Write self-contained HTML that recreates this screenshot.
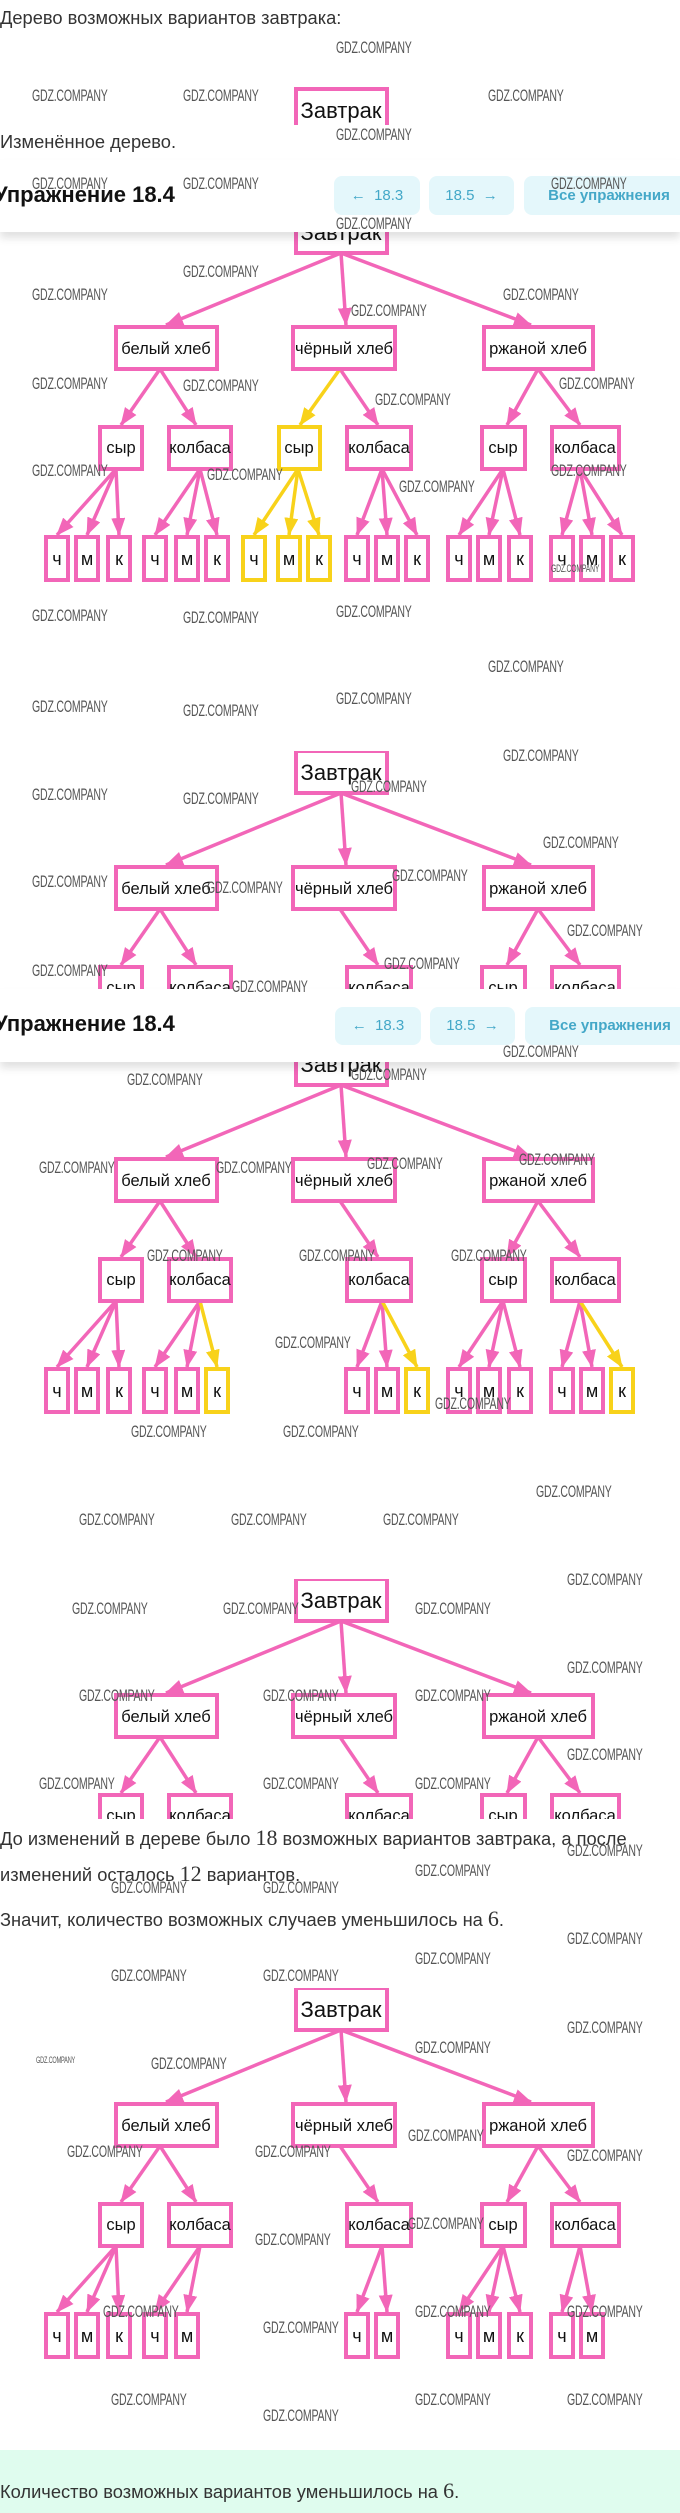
<!DOCTYPE html>
<html><head><meta charset="utf-8">
<style>
*{margin:0;padding:0;box-sizing:border-box}
html,body{width:680px;height:2513px;background:#fff;overflow:hidden;position:relative;font-family:"Liberation Sans","DejaVu Sans",sans-serif;color:#333}
.txt{position:absolute;left:0;font-size:18.3px;color:#333;white-space:nowrap}
.m{font-family:"Liberation Serif",serif;font-size:22px}
.clip{position:absolute;left:0;width:680px;overflow:hidden}
svg .b{fill:#fff;stroke:#f266b8;stroke-width:4}
svg .by{fill:#fff;stroke:#f8d21a;stroke-width:4}
svg .l line{stroke:#f266b8;stroke-width:3.5}
svg .ly line{stroke:#f8d21a;stroke-width:3.5}
svg text{font-family:"Liberation Sans",sans-serif;fill:#111;text-anchor:middle}
svg .t1{font-size:16.5px}
svg .t0{font-size:22px}
svg .lf text{font-size:18px}
.hdr{position:absolute;left:0;width:680px;background:#fff;box-shadow:0 6px 8px rgba(0,0,0,0.12);z-index:5}
.hdr h2{position:absolute;left:-6px;font-size:22px;font-weight:bold;color:#111}
.btn{position:absolute;background:#e4f7fb;border-radius:8px;color:#44a8c8;font-size:15px;text-align:center}
.wm{position:absolute;font-family:"Liberation Sans",sans-serif;font-size:17px;color:#555;transform:scaleX(0.62);transform-origin:0 0;white-space:nowrap;z-index:10;letter-spacing:-0.3px}
.green{position:absolute;left:0;top:2450px;width:680px;height:63px;background:#dffcee}
</style></head><body>

<div class="txt" style="top:7px">Дерево возможных вариантов завтрака:</div>

<div class="clip" style="top:87px;height:38px">
<svg width="680" height="60"><rect class="b" x="296" y="2" width="91" height="42"/><text class="t0" x="341" y="31">Завтрак</text></svg>
</div>

<div class="txt" style="top:131px">Изменённое дерево.</div>

<div class="hdr" style="top:160px;height:72px">
<h2 style="top:22px">Упражнение 18.4</h2>
<div class="btn" style="left:334px;top:16px;width:86px;height:39px;line-height:39px">←&nbsp; 18.3</div>
<div class="btn" style="left:429px;top:16px;width:85px;height:39px;line-height:39px">18.5 &nbsp;→</div>
<div class="btn" style="left:524px;top:16px;width:170px;height:39px;line-height:39px;font-weight:bold">Все упражнения</div>
</div>

<!-- Tree A -->
<div class="clip" style="top:211px;height:372px">
<svg width="680" height="372">
<defs>
<marker id="apA" viewBox="0 0 18 14" refX="17" refY="7" markerWidth="18" markerHeight="14" markerUnits="userSpaceOnUse" orient="auto"><path d="M0,0 L18,7 L0,14 z" fill="#f266b8"/></marker>
<marker id="ayA" viewBox="0 0 18 14" refX="17" refY="7" markerWidth="18" markerHeight="14" markerUnits="userSpaceOnUse" orient="auto"><path d="M0,0 L18,7 L0,14 z" fill="#f8d21a"/></marker>
</defs>
<g class="l" marker-end="url(#apA)">
<line x1="341" y1="42" x2="166" y2="114" marker-end="url(#apA)"/><line x1="341" y1="42" x2="346" y2="114" marker-end="url(#apA)"/><line x1="341" y1="42" x2="531" y2="114" marker-end="url(#apA)"/>
<line x1="160" y1="158" x2="121" y2="214" marker-end="url(#apA)"/><line x1="160" y1="158" x2="196" y2="214" marker-end="url(#apA)"/>
<line x1="340" y1="158" x2="378" y2="214" marker-end="url(#apA)"/>
<line x1="538" y1="158" x2="507" y2="214" marker-end="url(#apA)"/><line x1="538" y1="158" x2="580" y2="214" marker-end="url(#apA)"/>
<line x1="116" y1="258" x2="57" y2="324" marker-end="url(#apA)"/><line x1="116" y1="258" x2="87" y2="324" marker-end="url(#apA)"/><line x1="116" y1="258" x2="119" y2="324" marker-end="url(#apA)"/>
<line x1="200" y1="258" x2="155" y2="324" marker-end="url(#apA)"/><line x1="200" y1="258" x2="187" y2="324" marker-end="url(#apA)"/><line x1="200" y1="258" x2="217" y2="324" marker-end="url(#apA)"/>
<line x1="382" y1="258" x2="357" y2="324" marker-end="url(#apA)"/><line x1="382" y1="258" x2="387" y2="324" marker-end="url(#apA)"/><line x1="382" y1="258" x2="417" y2="324" marker-end="url(#apA)"/>
<line x1="503" y1="258" x2="459" y2="324" marker-end="url(#apA)"/><line x1="503" y1="258" x2="489" y2="324" marker-end="url(#apA)"/><line x1="503" y1="258" x2="520" y2="324" marker-end="url(#apA)"/>
<line x1="580" y1="258" x2="562" y2="324" marker-end="url(#apA)"/><line x1="580" y1="258" x2="592" y2="324" marker-end="url(#apA)"/><line x1="580" y1="258" x2="622" y2="324" marker-end="url(#apA)"/>
</g>
<g class="ly">
<line x1="340" y1="158" x2="300" y2="214" marker-end="url(#ayA)"/>
<line x1="298" y1="258" x2="254" y2="324" marker-end="url(#ayA)"/><line x1="298" y1="258" x2="289" y2="324" marker-end="url(#ayA)"/><line x1="298" y1="258" x2="319" y2="324" marker-end="url(#ayA)"/>
</g>
<rect class="b" x="296" y="0" width="91" height="42"/><text class="t0" x="341" y="29">Завтрак</text>
<rect class="b" x="116" y="116" width="101" height="42"/><text class="t1" x="166" y="143">белый хлеб</text>
<rect class="b" x="293" y="116" width="102" height="42"/><text class="t1" x="344" y="143">чёрный хлеб</text>
<rect class="b" x="484" y="116" width="109" height="42"/><text class="t1" x="538" y="143">ржаной хлеб</text>
<rect class="b" x="100" y="216" width="42" height="42"/><text class="t1" x="121" y="242">сыр</text>
<rect class="b" x="169" y="216" width="62" height="42"/><text class="t1" x="200" y="242">колбаса</text>
<rect class="by" x="279" y="216" width="41" height="42"/><text class="t1" x="299" y="242">сыр</text>
<rect class="b" x="347" y="216" width="64" height="42"/><text class="t1" x="379" y="242">колбаса</text>
<rect class="b" x="482" y="216" width="43" height="42"/><text class="t1" x="503" y="242">сыр</text>
<rect class="b" x="552" y="216" width="67" height="42"/><text class="t1" x="585" y="242">колбаса</text>
<g class="lf">
<rect class="b" x="46" y="326" width="22" height="43"/><text x="57" y="354">ч</text>
<rect class="b" x="76" y="326" width="22" height="43"/><text x="87" y="354">м</text>
<rect class="b" x="108" y="326" width="22" height="43"/><text x="119" y="354">к</text>
<rect class="b" x="144" y="326" width="22" height="43"/><text x="155" y="354">ч</text>
<rect class="b" x="176" y="326" width="22" height="43"/><text x="187" y="354">м</text>
<rect class="b" x="206" y="326" width="22" height="43"/><text x="217" y="354">к</text>
<rect class="by" x="243" y="326" width="22" height="43"/><text x="254" y="354">ч</text>
<rect class="by" x="278" y="326" width="22" height="43"/><text x="289" y="354">м</text>
<rect class="by" x="308" y="326" width="22" height="43"/><text x="319" y="354">к</text>
<rect class="b" x="346" y="326" width="22" height="43"/><text x="357" y="354">ч</text>
<rect class="b" x="376" y="326" width="22" height="43"/><text x="387" y="354">м</text>
<rect class="b" x="406" y="326" width="22" height="43"/><text x="417" y="354">к</text>
<rect class="b" x="448" y="326" width="22" height="43"/><text x="459" y="354">ч</text>
<rect class="b" x="478" y="326" width="22" height="43"/><text x="489" y="354">м</text>
<rect class="b" x="509" y="326" width="22" height="43"/><text x="520" y="354">к</text>
<rect class="b" x="551" y="326" width="22" height="43"/><text x="562" y="354">ч</text>
<rect class="b" x="581" y="326" width="22" height="43"/><text x="592" y="354">м</text>
<rect class="b" x="611" y="326" width="22" height="43"/><text x="622" y="354">к</text>
</g>
</svg></div>

<!-- Tree B -->
<div class="clip" style="top:751px;height:238px">
<svg width="680" height="260">
<defs>
<marker id="apB" viewBox="0 0 18 14" refX="17" refY="7" markerWidth="18" markerHeight="14" markerUnits="userSpaceOnUse" orient="auto"><path d="M0,0 L18,7 L0,14 z" fill="#f266b8"/></marker>
</defs>
<g class="l">
<line x1="341" y1="42" x2="166" y2="114" marker-end="url(#apB)"/><line x1="341" y1="42" x2="346" y2="114" marker-end="url(#apB)"/><line x1="341" y1="42" x2="531" y2="114" marker-end="url(#apB)"/>
<line x1="160" y1="158" x2="121" y2="214" marker-end="url(#apB)"/><line x1="160" y1="158" x2="196" y2="214" marker-end="url(#apB)"/>
<line x1="340" y1="158" x2="378" y2="214" marker-end="url(#apB)"/>
<line x1="538" y1="158" x2="507" y2="214" marker-end="url(#apB)"/><line x1="538" y1="158" x2="580" y2="214" marker-end="url(#apB)"/>
</g>
<rect class="b" x="296" y="0" width="91" height="42"/><text class="t0" x="341" y="29">Завтрак</text>
<rect class="b" x="116" y="116" width="101" height="42"/><text class="t1" x="166" y="143">белый хлеб</text>
<rect class="b" x="293" y="116" width="102" height="42"/><text class="t1" x="344" y="143">чёрный хлеб</text>
<rect class="b" x="484" y="116" width="109" height="42"/><text class="t1" x="538" y="143">ржаной хлеб</text>
<rect class="b" x="100" y="216" width="42" height="42"/><text class="t1" x="121" y="242">сыр</text>
<rect class="b" x="169" y="216" width="62" height="42"/><text class="t1" x="200" y="242">колбаса</text>
<rect class="b" x="347" y="216" width="64" height="42"/><text class="t1" x="379" y="242">колбаса</text>
<rect class="b" x="482" y="216" width="43" height="42"/><text class="t1" x="503" y="242">сыр</text>
<rect class="b" x="552" y="216" width="67" height="42"/><text class="t1" x="585" y="242">колбаса</text>
</svg></div>

<!-- Tree C -->
<div class="clip" style="top:1043px;height:372px">
<svg width="680" height="372">
<defs>
<marker id="apC" viewBox="0 0 18 14" refX="17" refY="7" markerWidth="18" markerHeight="14" markerUnits="userSpaceOnUse" orient="auto"><path d="M0,0 L18,7 L0,14 z" fill="#f266b8"/></marker>
<marker id="ayC" viewBox="0 0 18 14" refX="17" refY="7" markerWidth="18" markerHeight="14" markerUnits="userSpaceOnUse" orient="auto"><path d="M0,0 L18,7 L0,14 z" fill="#f8d21a"/></marker>
</defs>
<g class="l">
<line x1="341" y1="42" x2="166" y2="114" marker-end="url(#apC)"/><line x1="341" y1="42" x2="346" y2="114" marker-end="url(#apC)"/><line x1="341" y1="42" x2="531" y2="114" marker-end="url(#apC)"/>
<line x1="160" y1="158" x2="121" y2="214" marker-end="url(#apC)"/><line x1="160" y1="158" x2="196" y2="214" marker-end="url(#apC)"/>
<line x1="340" y1="158" x2="378" y2="214" marker-end="url(#apC)"/>
<line x1="538" y1="158" x2="507" y2="214" marker-end="url(#apC)"/><line x1="538" y1="158" x2="580" y2="214" marker-end="url(#apC)"/>
<line x1="116" y1="258" x2="57" y2="324" marker-end="url(#apC)"/><line x1="116" y1="258" x2="87" y2="324" marker-end="url(#apC)"/><line x1="116" y1="258" x2="119" y2="324" marker-end="url(#apC)"/>
<line x1="200" y1="258" x2="155" y2="324" marker-end="url(#apC)"/><line x1="200" y1="258" x2="187" y2="324" marker-end="url(#apC)"/>
<line x1="382" y1="258" x2="357" y2="324" marker-end="url(#apC)"/><line x1="382" y1="258" x2="387" y2="324" marker-end="url(#apC)"/>
<line x1="503" y1="258" x2="459" y2="324" marker-end="url(#apC)"/><line x1="503" y1="258" x2="489" y2="324" marker-end="url(#apC)"/><line x1="503" y1="258" x2="520" y2="324" marker-end="url(#apC)"/>
<line x1="580" y1="258" x2="562" y2="324" marker-end="url(#apC)"/><line x1="580" y1="258" x2="592" y2="324" marker-end="url(#apC)"/>
</g>
<g class="ly">
<line x1="200" y1="258" x2="217" y2="324" marker-end="url(#ayC)"/>
<line x1="382" y1="258" x2="417" y2="324" marker-end="url(#ayC)"/>
<line x1="580" y1="258" x2="622" y2="324" marker-end="url(#ayC)"/>
</g>
<rect class="b" x="296" y="0" width="91" height="42"/><text class="t0" x="341" y="29">Завтрак</text>
<rect class="b" x="116" y="116" width="101" height="42"/><text class="t1" x="166" y="143">белый хлеб</text>
<rect class="b" x="293" y="116" width="102" height="42"/><text class="t1" x="344" y="143">чёрный хлеб</text>
<rect class="b" x="484" y="116" width="109" height="42"/><text class="t1" x="538" y="143">ржаной хлеб</text>
<rect class="b" x="100" y="216" width="42" height="42"/><text class="t1" x="121" y="242">сыр</text>
<rect class="b" x="169" y="216" width="62" height="42"/><text class="t1" x="200" y="242">колбаса</text>
<rect class="b" x="347" y="216" width="64" height="42"/><text class="t1" x="379" y="242">колбаса</text>
<rect class="b" x="482" y="216" width="43" height="42"/><text class="t1" x="503" y="242">сыр</text>
<rect class="b" x="552" y="216" width="67" height="42"/><text class="t1" x="585" y="242">колбаса</text>
<g class="lf">
<rect class="b" x="46" y="326" width="22" height="43"/><text x="57" y="354">ч</text>
<rect class="b" x="76" y="326" width="22" height="43"/><text x="87" y="354">м</text>
<rect class="b" x="108" y="326" width="22" height="43"/><text x="119" y="354">к</text>
<rect class="b" x="144" y="326" width="22" height="43"/><text x="155" y="354">ч</text>
<rect class="b" x="176" y="326" width="22" height="43"/><text x="187" y="354">м</text>
<rect class="by" x="206" y="326" width="22" height="43"/><text x="217" y="354">к</text>
<rect class="b" x="346" y="326" width="22" height="43"/><text x="357" y="354">ч</text>
<rect class="b" x="376" y="326" width="22" height="43"/><text x="387" y="354">м</text>
<rect class="by" x="406" y="326" width="22" height="43"/><text x="417" y="354">к</text>
<rect class="b" x="448" y="326" width="22" height="43"/><text x="459" y="354">ч</text>
<rect class="b" x="478" y="326" width="22" height="43"/><text x="489" y="354">м</text>
<rect class="b" x="509" y="326" width="22" height="43"/><text x="520" y="354">к</text>
<rect class="b" x="551" y="326" width="22" height="43"/><text x="562" y="354">ч</text>
<rect class="b" x="581" y="326" width="22" height="43"/><text x="592" y="354">м</text>
<rect class="by" x="611" y="326" width="22" height="43"/><text x="622" y="354">к</text>
</g>
</svg></div>

<div class="hdr" style="top:989px;height:73px">
<h2 style="top:22px">Упражнение 18.4</h2>
<div class="btn" style="left:335px;top:18px;width:86px;height:38px;line-height:38px">←&nbsp; 18.3</div>
<div class="btn" style="left:430px;top:18px;width:85px;height:38px;line-height:38px">18.5 &nbsp;→</div>
<div class="btn" style="left:525px;top:18px;width:170px;height:38px;line-height:38px;font-weight:bold">Все упражнения</div>
</div>

<!-- Tree D -->
<div class="clip" style="top:1579px;height:240px">
<svg width="680" height="260">
<defs>
<marker id="apD" viewBox="0 0 18 14" refX="17" refY="7" markerWidth="18" markerHeight="14" markerUnits="userSpaceOnUse" orient="auto"><path d="M0,0 L18,7 L0,14 z" fill="#f266b8"/></marker>
</defs>
<g class="l">
<line x1="341" y1="42" x2="166" y2="114" marker-end="url(#apD)"/><line x1="341" y1="42" x2="346" y2="114" marker-end="url(#apD)"/><line x1="341" y1="42" x2="531" y2="114" marker-end="url(#apD)"/>
<line x1="160" y1="158" x2="121" y2="214" marker-end="url(#apD)"/><line x1="160" y1="158" x2="196" y2="214" marker-end="url(#apD)"/>
<line x1="340" y1="158" x2="378" y2="214" marker-end="url(#apD)"/>
<line x1="538" y1="158" x2="507" y2="214" marker-end="url(#apD)"/><line x1="538" y1="158" x2="580" y2="214" marker-end="url(#apD)"/>
</g>
<rect class="b" x="296" y="0" width="91" height="42"/><text class="t0" x="341" y="29">Завтрак</text>
<rect class="b" x="116" y="116" width="101" height="42"/><text class="t1" x="166" y="143">белый хлеб</text>
<rect class="b" x="293" y="116" width="102" height="42"/><text class="t1" x="344" y="143">чёрный хлеб</text>
<rect class="b" x="484" y="116" width="109" height="42"/><text class="t1" x="538" y="143">ржаной хлеб</text>
<rect class="b" x="100" y="216" width="42" height="42"/><text class="t1" x="121" y="242">сыр</text>
<rect class="b" x="169" y="216" width="62" height="42"/><text class="t1" x="200" y="242">колбаса</text>
<rect class="b" x="347" y="216" width="64" height="42"/><text class="t1" x="379" y="242">колбаса</text>
<rect class="b" x="482" y="216" width="43" height="42"/><text class="t1" x="503" y="242">сыр</text>
<rect class="b" x="552" y="216" width="67" height="42"/><text class="t1" x="585" y="242">колбаса</text>
</svg></div>

<div class="txt" style="top:1825px">До изменений в дереве было <span class="m">18</span> возможных вариантов завтрака, а после</div>
<div class="txt" style="top:1861px">изменений осталось <span class="m">12</span> вариантов.</div>
<div class="txt" style="top:1906px">Значит, количество возможных случаев уменьшилось на <span class="m">6</span>.</div>

<!-- Tree E -->
<div class="clip" style="top:1988px;height:372px">
<svg width="680" height="372">
<defs>
<marker id="apE" viewBox="0 0 18 14" refX="17" refY="7" markerWidth="18" markerHeight="14" markerUnits="userSpaceOnUse" orient="auto"><path d="M0,0 L18,7 L0,14 z" fill="#f266b8"/></marker>
</defs>
<g class="l">
<line x1="341" y1="42" x2="166" y2="114" marker-end="url(#apE)"/><line x1="341" y1="42" x2="346" y2="114" marker-end="url(#apE)"/><line x1="341" y1="42" x2="531" y2="114" marker-end="url(#apE)"/>
<line x1="160" y1="158" x2="121" y2="214" marker-end="url(#apE)"/><line x1="160" y1="158" x2="196" y2="214" marker-end="url(#apE)"/>
<line x1="340" y1="158" x2="378" y2="214" marker-end="url(#apE)"/>
<line x1="538" y1="158" x2="507" y2="214" marker-end="url(#apE)"/><line x1="538" y1="158" x2="580" y2="214" marker-end="url(#apE)"/>
<line x1="116" y1="258" x2="57" y2="324" marker-end="url(#apE)"/><line x1="116" y1="258" x2="87" y2="324" marker-end="url(#apE)"/><line x1="116" y1="258" x2="119" y2="324" marker-end="url(#apE)"/>
<line x1="200" y1="258" x2="155" y2="324" marker-end="url(#apE)"/><line x1="200" y1="258" x2="187" y2="324" marker-end="url(#apE)"/>
<line x1="382" y1="258" x2="357" y2="324" marker-end="url(#apE)"/><line x1="382" y1="258" x2="387" y2="324" marker-end="url(#apE)"/>
<line x1="503" y1="258" x2="459" y2="324" marker-end="url(#apE)"/><line x1="503" y1="258" x2="489" y2="324" marker-end="url(#apE)"/><line x1="503" y1="258" x2="520" y2="324" marker-end="url(#apE)"/>
<line x1="580" y1="258" x2="562" y2="324" marker-end="url(#apE)"/><line x1="580" y1="258" x2="592" y2="324" marker-end="url(#apE)"/>
</g>
<rect class="b" x="296" y="0" width="91" height="42"/><text class="t0" x="341" y="29">Завтрак</text>
<rect class="b" x="116" y="116" width="101" height="42"/><text class="t1" x="166" y="143">белый хлеб</text>
<rect class="b" x="293" y="116" width="102" height="42"/><text class="t1" x="344" y="143">чёрный хлеб</text>
<rect class="b" x="484" y="116" width="109" height="42"/><text class="t1" x="538" y="143">ржаной хлеб</text>
<rect class="b" x="100" y="216" width="42" height="42"/><text class="t1" x="121" y="242">сыр</text>
<rect class="b" x="169" y="216" width="62" height="42"/><text class="t1" x="200" y="242">колбаса</text>
<rect class="b" x="347" y="216" width="64" height="42"/><text class="t1" x="379" y="242">колбаса</text>
<rect class="b" x="482" y="216" width="43" height="42"/><text class="t1" x="503" y="242">сыр</text>
<rect class="b" x="552" y="216" width="67" height="42"/><text class="t1" x="585" y="242">колбаса</text>
<g class="lf">
<rect class="b" x="46" y="326" width="22" height="43"/><text x="57" y="354">ч</text>
<rect class="b" x="76" y="326" width="22" height="43"/><text x="87" y="354">м</text>
<rect class="b" x="108" y="326" width="22" height="43"/><text x="119" y="354">к</text>
<rect class="b" x="144" y="326" width="22" height="43"/><text x="155" y="354">ч</text>
<rect class="b" x="176" y="326" width="22" height="43"/><text x="187" y="354">м</text>
<rect class="b" x="346" y="326" width="22" height="43"/><text x="357" y="354">ч</text>
<rect class="b" x="376" y="326" width="22" height="43"/><text x="387" y="354">м</text>
<rect class="b" x="448" y="326" width="22" height="43"/><text x="459" y="354">ч</text>
<rect class="b" x="478" y="326" width="22" height="43"/><text x="489" y="354">м</text>
<rect class="b" x="509" y="326" width="22" height="43"/><text x="520" y="354">к</text>
<rect class="b" x="551" y="326" width="22" height="43"/><text x="562" y="354">ч</text>
<rect class="b" x="581" y="326" width="22" height="43"/><text x="592" y="354">м</text>
</g>
</svg></div>

<div class="green"></div>
<div class="txt" style="top:2478px">Количество возможных вариантов уменьшилось на <span class="m">6</span>.</div>

<div class="wm" style="left:336px;top:38px">GDZ.COMPANY</div>
<div class="wm" style="left:32px;top:86px">GDZ.COMPANY</div>
<div class="wm" style="left:183px;top:86px">GDZ.COMPANY</div>
<div class="wm" style="left:488px;top:86px">GDZ.COMPANY</div>
<div class="wm" style="left:336px;top:125px">GDZ.COMPANY</div>
<div class="wm" style="left:32px;top:174px">GDZ.COMPANY</div>
<div class="wm" style="left:183px;top:174px">GDZ.COMPANY</div>
<div class="wm" style="left:551px;top:174px">GDZ.COMPANY</div>
<div class="wm" style="left:336px;top:214px">GDZ.COMPANY</div>
<div class="wm" style="left:183px;top:262px">GDZ.COMPANY</div>
<div class="wm" style="left:32px;top:285px">GDZ.COMPANY</div>
<div class="wm" style="left:503px;top:285px">GDZ.COMPANY</div>
<div class="wm" style="left:351px;top:301px">GDZ.COMPANY</div>
<div class="wm" style="left:32px;top:374px">GDZ.COMPANY</div>
<div class="wm" style="left:183px;top:376px">GDZ.COMPANY</div>
<div class="wm" style="left:559px;top:374px">GDZ.COMPANY</div>
<div class="wm" style="left:375px;top:390px">GDZ.COMPANY</div>
<div class="wm" style="left:32px;top:461px">GDZ.COMPANY</div>
<div class="wm" style="left:207px;top:465px">GDZ.COMPANY</div>
<div class="wm" style="left:399px;top:477px">GDZ.COMPANY</div>
<div class="wm" style="left:551px;top:461px">GDZ.COMPANY</div>
<div class="wm" style="left:551px;top:563px;font-size:11px">GDZ.COMPANY</div>
<div class="wm" style="left:336px;top:602px">GDZ.COMPANY</div>
<div class="wm" style="left:32px;top:606px">GDZ.COMPANY</div>
<div class="wm" style="left:183px;top:608px">GDZ.COMPANY</div>
<div class="wm" style="left:488px;top:657px">GDZ.COMPANY</div>
<div class="wm" style="left:336px;top:689px">GDZ.COMPANY</div>
<div class="wm" style="left:32px;top:697px">GDZ.COMPANY</div>
<div class="wm" style="left:183px;top:701px">GDZ.COMPANY</div>
<div class="wm" style="left:503px;top:746px">GDZ.COMPANY</div>
<div class="wm" style="left:351px;top:777px">GDZ.COMPANY</div>
<div class="wm" style="left:32px;top:785px">GDZ.COMPANY</div>
<div class="wm" style="left:183px;top:789px">GDZ.COMPANY</div>
<div class="wm" style="left:543px;top:833px">GDZ.COMPANY</div>
<div class="wm" style="left:392px;top:866px">GDZ.COMPANY</div>
<div class="wm" style="left:32px;top:872px">GDZ.COMPANY</div>
<div class="wm" style="left:207px;top:878px">GDZ.COMPANY</div>
<div class="wm" style="left:567px;top:921px">GDZ.COMPANY</div>
<div class="wm" style="left:384px;top:954px">GDZ.COMPANY</div>
<div class="wm" style="left:32px;top:961px">GDZ.COMPANY</div>
<div class="wm" style="left:232px;top:977px">GDZ.COMPANY</div>
<div class="wm" style="left:503px;top:1042px">GDZ.COMPANY</div>
<div class="wm" style="left:127px;top:1070px">GDZ.COMPANY</div>
<div class="wm" style="left:351px;top:1065px">GDZ.COMPANY</div>
<div class="wm" style="left:39px;top:1158px">GDZ.COMPANY</div>
<div class="wm" style="left:216px;top:1158px">GDZ.COMPANY</div>
<div class="wm" style="left:367px;top:1154px">GDZ.COMPANY</div>
<div class="wm" style="left:519px;top:1150px">GDZ.COMPANY</div>
<div class="wm" style="left:147px;top:1246px">GDZ.COMPANY</div>
<div class="wm" style="left:299px;top:1246px">GDZ.COMPANY</div>
<div class="wm" style="left:451px;top:1246px">GDZ.COMPANY</div>
<div class="wm" style="left:275px;top:1333px">GDZ.COMPANY</div>
<div class="wm" style="left:435px;top:1394px">GDZ.COMPANY</div>
<div class="wm" style="left:131px;top:1422px">GDZ.COMPANY</div>
<div class="wm" style="left:283px;top:1422px">GDZ.COMPANY</div>
<div class="wm" style="left:536px;top:1482px">GDZ.COMPANY</div>
<div class="wm" style="left:79px;top:1510px">GDZ.COMPANY</div>
<div class="wm" style="left:231px;top:1510px">GDZ.COMPANY</div>
<div class="wm" style="left:383px;top:1510px">GDZ.COMPANY</div>
<div class="wm" style="left:567px;top:1570px">GDZ.COMPANY</div>
<div class="wm" style="left:72px;top:1599px">GDZ.COMPANY</div>
<div class="wm" style="left:223px;top:1599px">GDZ.COMPANY</div>
<div class="wm" style="left:415px;top:1599px">GDZ.COMPANY</div>
<div class="wm" style="left:567px;top:1658px">GDZ.COMPANY</div>
<div class="wm" style="left:79px;top:1686px">GDZ.COMPANY</div>
<div class="wm" style="left:263px;top:1686px">GDZ.COMPANY</div>
<div class="wm" style="left:415px;top:1686px">GDZ.COMPANY</div>
<div class="wm" style="left:567px;top:1745px">GDZ.COMPANY</div>
<div class="wm" style="left:39px;top:1774px">GDZ.COMPANY</div>
<div class="wm" style="left:263px;top:1774px">GDZ.COMPANY</div>
<div class="wm" style="left:415px;top:1774px">GDZ.COMPANY</div>
<div class="wm" style="left:567px;top:1841px">GDZ.COMPANY</div>
<div class="wm" style="left:415px;top:1861px">GDZ.COMPANY</div>
<div class="wm" style="left:111px;top:1878px">GDZ.COMPANY</div>
<div class="wm" style="left:263px;top:1878px">GDZ.COMPANY</div>
<div class="wm" style="left:567px;top:1929px">GDZ.COMPANY</div>
<div class="wm" style="left:415px;top:1949px">GDZ.COMPANY</div>
<div class="wm" style="left:111px;top:1966px">GDZ.COMPANY</div>
<div class="wm" style="left:263px;top:1966px">GDZ.COMPANY</div>
<div class="wm" style="left:567px;top:2018px">GDZ.COMPANY</div>
<div class="wm" style="left:415px;top:2038px">GDZ.COMPANY</div>
<div class="wm" style="left:151px;top:2054px">GDZ.COMPANY</div>
<div class="wm" style="left:36px;top:2055px;font-size:9px">GDZ.COMPANY</div>
<div class="wm" style="left:408px;top:2126px">GDZ.COMPANY</div>
<div class="wm" style="left:567px;top:2146px">GDZ.COMPANY</div>
<div class="wm" style="left:67px;top:2142px">GDZ.COMPANY</div>
<div class="wm" style="left:255px;top:2142px">GDZ.COMPANY</div>
<div class="wm" style="left:408px;top:2214px">GDZ.COMPANY</div>
<div class="wm" style="left:255px;top:2230px">GDZ.COMPANY</div>
<div class="wm" style="left:103px;top:2302px">GDZ.COMPANY</div>
<div class="wm" style="left:415px;top:2302px">GDZ.COMPANY</div>
<div class="wm" style="left:567px;top:2302px">GDZ.COMPANY</div>
<div class="wm" style="left:263px;top:2318px">GDZ.COMPANY</div>
<div class="wm" style="left:111px;top:2390px">GDZ.COMPANY</div>
<div class="wm" style="left:415px;top:2390px">GDZ.COMPANY</div>
<div class="wm" style="left:567px;top:2390px">GDZ.COMPANY</div>
<div class="wm" style="left:263px;top:2406px">GDZ.COMPANY</div>
</body></html>
